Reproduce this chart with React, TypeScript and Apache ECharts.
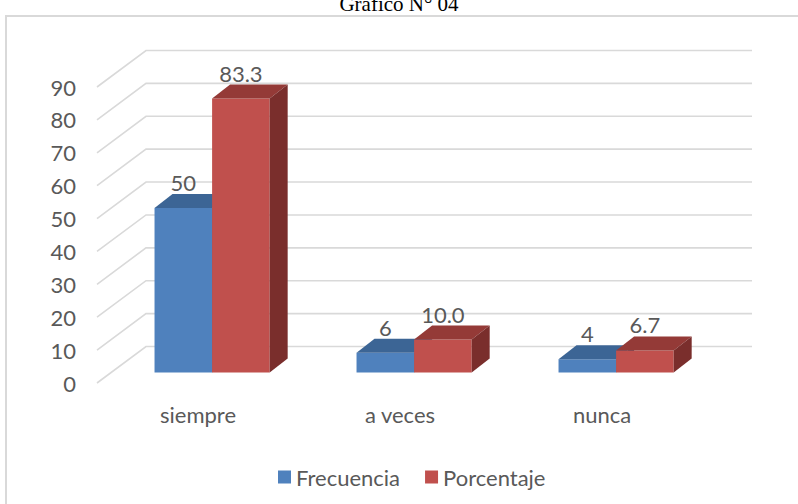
import React, { useEffect, useRef } from "react";
import * as echarts from "echarts";

const categories = ["siempre", "a veces", "nunca"];
const frecuencia = [50, 6, 4];
const porcentaje = [83.3, 10.0, 6.7];
const yTicks = [0, 10, 20, 30, 40, 50, 60, 70, 80, 90];
const seriesNames = ["Frecuencia", "Porcentaje"];
const titleText = "Gráfico N° 04";

const FONT = "Lato";
const TEXT = "#595959";
const GRID_COLOR = "#d9d9d9";
// 3D projection (pixels)
const WALL_DX = 49;
const WALL_DY = -36.5;
const BAR_OFF_X = 14.1;
const BAR_OFF_Y = -10.5;
const BAR_DX = 18;
const BAR_DY = -14;
const BAR_FRAC = 0.285;

const COLORS = [
  { front: "#4f81bd", top: "#3c6595", side: "#345a87" },
  { front: "#c0504d", top: "#943a37", side: "#7a2e2c" },
];

function makeBarRenderer(idx: number, fmt: (v: number) => string) {
  return (params: any, api: any) => {
    const cat = api.value(0);
    const val = api.value(1);
    const base = api.coord([cat, 0]);
    const top = api.coord([cat, val]);
    const band = api.size([1, 0])[0];
    const w = band * BAR_FRAC;
    const cx = base[0] + BAR_OFF_X;
    const x0 = idx === 0 ? cx - w : cx;
    const x1 = x0 + w;
    const yb = base[1] + BAR_OFF_Y;
    const yt = top[1] + BAR_OFF_Y;
    const c = COLORS[idx];
    return {
      type: "group",
      children: [
        {
          type: "polygon",
          shape: { points: [[x0, yb], [x1, yb], [x1, yt], [x0, yt]] },
          style: { fill: c.front },
        },
        {
          type: "polygon",
          shape: {
            points: [[x0, yt], [x1, yt], [x1 + BAR_DX, yt + BAR_DY], [x0 + BAR_DX, yt + BAR_DY]],
          },
          style: { fill: c.top },
        },
        {
          type: "polygon",
          shape: {
            points: [[x1, yb], [x1 + BAR_DX, yb + BAR_DY], [x1 + BAR_DX, yt + BAR_DY], [x1, yt]],
          },
          style: { fill: c.side },
        },
        {
          type: "text",
          x: (x0 + x1) / 2,
          y: yt + BAR_DY - 11.5,
          style: {
            text: fmt(val),
            fill: TEXT,
            fontSize: 22,
            fontFamily: FONT,
            align: "center",
            verticalAlign: "middle",
          },
        },
      ],
    };
  };
}

export default function App() {
  const ref = useRef<HTMLDivElement>(null);
  useEffect(() => {
    if (!ref.current) return;
    const chart = echarts.init(ref.current, null, { renderer: "svg" });
    chart.setOption({
      animation: false,
      backgroundColor: "#ffffff",
      graphic: [
        {
          type: "rect",
          shape: { x: 6, y: 16, width: 820, height: 520 },
          style: { fill: "none", stroke: GRID_COLOR, lineWidth: 2 },
          silent: true,
        },
        {
          type: "text",
          x: 399,
          y: 14.5,
          style: {
            text: titleText,
            fill: "#000000",
            fontSize: 21,
            fontFamily: "Liberation Serif",
            align: "center",
            verticalAlign: "bottom",
          },
        },
      ],
      legend: {
        data: seriesNames,
        left: 273,
        top: 461,
        icon: "rect",
        itemWidth: 13,
        itemHeight: 13,
        itemGap: 25,
        textStyle: { color: TEXT, fontSize: 22, fontFamily: FONT },
      },
      grid: { left: 97, right: 95, top: 87, bottom: 121, containLabel: false },
      xAxis: {
        type: "category",
        data: categories,
        axisLine: { show: false },
        axisTick: { show: false },
        splitLine: { show: false },
        axisLabel: { color: TEXT, fontSize: 22, fontFamily: FONT, margin: 20 },
      },
      yAxis: {
        type: "value",
        min: 0,
        max: 90,
        interval: 10,
        axisLine: { show: false },
        axisTick: { show: false },
        splitLine: { show: false },
        axisLabel: { color: TEXT, fontSize: 22, fontFamily: FONT, margin: 21 },
      },
      series: [
        {
          type: "custom",
          silent: true,
          clip: false,
          data: yTicks.map((v) => [0, v]),
          renderItem: (params: any, api: any) => {
            const cs = params.coordSys;
            const y = api.coord([0, api.value(1)])[1];
            return {
              type: "polyline",
              shape: {
                points: [
                  [cs.x, y],
                  [cs.x + WALL_DX, y + WALL_DY],
                  [cs.x + cs.width + WALL_DX, y + WALL_DY],
                ],
              },
              style: { stroke: GRID_COLOR, lineWidth: 1.6, fill: null },
            };
          },
          z: 1,
        },
        {
          name: seriesNames[0],
          type: "custom",
          clip: false,
          itemStyle: { color: COLORS[0].front },
          data: frecuencia.map((v, i) => [i, v]),
          renderItem: makeBarRenderer(0, (v) => String(v)),
          z: 2,
        },
        {
          name: seriesNames[1],
          type: "custom",
          clip: false,
          itemStyle: { color: COLORS[1].front },
          data: porcentaje.map((v, i) => [i, v]),
          renderItem: makeBarRenderer(1, (v) => v.toFixed(1)),
          z: 3,
        },
      ],
    });
    return () => chart.dispose();
  }, []);
  return <div ref={ref} style={{ width: 798, height: 504, position: "fixed", left: 0, top: 0 }} />;
}
